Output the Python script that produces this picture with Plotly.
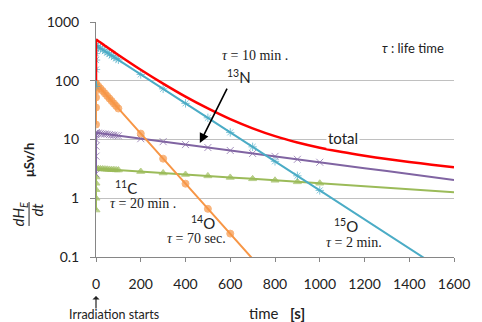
import math
import plotly.graph_objects as go

# ---- data: dose-rate (uSv/h) of activation products after irradiation ----
# build-up during irradiation, all plotted at t = 0
buildup_time = [0, 0, 0, 0, 0, 0]
o15_buildup = [80, 155, 225, 290, 350, 400]
o14_buildup = [18, 35, 52, 68, 82, 90]
n13_buildup = [2.6, 5.2, 7.7, 10.0, 12.0, 13.0]
c11_buildup = [0.63, 1.0, 1.4, 1.8, 2.3, 3.2]
total_buildup = [101, 196, 287, 371, 447, 506]

# decay after irradiation
decay_time = [0, 10, 20, 30, 40, 50, 60, 70, 80, 90, 100,
              200, 300, 400, 500, 600, 700, 800, 900, 1000,
              1100, 1200, 1300, 1400, 1500, 1600]
o15_decay = [400, 378, 357, 337, 319, 301, 284, 269, 254, 240, 227,
             128, 72.8, 41.2, 23.4, 13.2, 7.5, 4.25, 2.41, 1.36,
             0.77, 0.44, 0.25, 0.14, 0.08, 0.045]
n13_decay = [13.0, 12.85, 12.70, 12.56, 12.41, 12.27, 12.13, 11.99, 11.85, 11.72, 11.58,
             10.32, 9.19, 8.19, 7.30, 6.50, 5.79, 5.16, 4.60, 4.10,
             3.65, 3.25, 2.90, 2.58, 2.30, 2.05]
c11_decay = [3.2, 3.18, 3.16, 3.15, 3.13, 3.11, 3.09, 3.07, 3.06, 3.04, 3.02,
             2.85, 2.69, 2.54, 2.40, 2.26, 2.14, 2.02, 1.90, 1.80,
             1.70, 1.60, 1.51, 1.43, 1.35, 1.27]
total_decay = [506, 476, 447, 420, 395, 372, 349, 329, 310, 292, 275,
               154, 89.4, 53.7, 33.8, 22.2, 15.5, 11.4, 8.9, 7.26,
               6.12, 5.29, 4.66, 4.15, 3.73, 3.37]

o14_time = [0, 10, 20, 30, 40, 50, 60, 70, 80, 90, 100,
            200, 300, 400, 500, 600, 700]
o14_decay = [90, 81.6, 73.9, 67.0, 60.8, 55.1, 49.9, 45.2, 41.0, 37.2, 33.7,
             12.6, 4.72, 1.77, 0.66, 0.25, 0.093]

y_tick_vals = [0.1, 1, 10, 100, 1000]
y_tick_text = ["0.1", "1", "10", "100", "1000"]
x_tick_vals = [0, 200, 400, 600, 800, 1000, 1200, 1400, 1600]

RED = "#FF0000"
TEAL = "#4BACC6"
ORANGE = "#F79646"
PURPLE = "#8064A2"
GREEN = "#9BBB59"
AXIS = "#868686"
GRID = "#C0C0C0"
INK = "#222222"
SANS = "Lato"
SERIF = "Liberation Serif"

fig = go.Figure()


def add_isotope(bt, bv, dt, dv, color, symbol, size, last_marked, lw=2, mline=1.0):
    """Build-up points at t=0 followed by the decay curve; markers up to last_marked s."""
    xs = list(bt) + list(dt)
    ys = list(bv) + list(dv)
    sizes = [size] * len(bt) + [size if t <= last_marked else 0 for t in dt]
    fig.add_trace(go.Scatter(
        x=xs, y=ys, mode="lines+markers",
        line=dict(color=color, width=lw),
        marker=dict(symbol=symbol, size=sizes, color=color,
                    line=dict(color=color, width=mline)),
        showlegend=False, hoverinfo="skip"))


add_isotope(buildup_time, c11_buildup, decay_time, c11_decay, GREEN,
            "triangle-up", 7, 1000)
add_isotope(buildup_time, n13_buildup, decay_time, n13_decay, PURPLE,
            "x-thin-open", 7, 1000)
add_isotope(buildup_time, o14_buildup, o14_time, o14_decay, ORANGE,
            "circle", 7, 600)
add_isotope(buildup_time, o15_buildup, decay_time, o15_decay, TEAL,
            "asterisk-open", 7, 1000)

# total dose rate: vertical rise during irradiation, then smooth decay
fig.add_trace(go.Scatter(
    x=[buildup_time[0], buildup_time[-1]],
    y=[total_buildup[0], total_buildup[-1]],
    mode="lines", line=dict(color=RED, width=2.5),
    showlegend=False, hoverinfo="skip"))
fig.add_trace(go.Scatter(
    x=decay_time, y=total_decay,
    mode="lines", line=dict(color=RED, width=2.5, shape="spline", smoothing=0.8),
    showlegend=False, hoverinfo="skip"))

fig.update_layout(
    width=482, height=322,
    margin=dict(l=96, r=17, t=22, b=65),
    paper_bgcolor="white", plot_bgcolor="white",
    font=dict(family=SANS, size=14, color=INK),
)
fig.update_xaxes(
    range=[0, 1600], tickvals=x_tick_vals,
    showgrid=False, zeroline=False,
    showline=True, linecolor=AXIS, linewidth=1,
    ticks="outside", ticklen=4, tickcolor=AXIS,
    tickfont=dict(family=SANS, size=14, color=INK),
    ticklabelstandoff=10,
)
fig.update_yaxes(
    type="log", range=[-1, 3],
    tickvals=y_tick_vals, ticktext=y_tick_text,
    showgrid=True, gridcolor=GRID, gridwidth=1,
    zeroline=False, showline=True, linecolor=AXIS, linewidth=1,
    ticks="outside", ticklen=5, tickcolor=AXIS,
    tickfont=dict(family=SANS, size=14, color=INK),
    ticklabelstandoff=8,
)


def note(text, x, y, size=14, family=SERIF, **kw):
    fig.add_annotation(text=text, x=x, y=math.log10(y), xref="x", yref="y",
                       xanchor="center", yanchor="middle",
                       showarrow=False, font=dict(family=family, size=size,
                                                  color=INK), **kw)


def paper_note(text, x, y, size=14, family=SANS, angle=0):
    fig.add_annotation(text=text, x=x, y=y, xref="paper", yref="paper",
                       xanchor="center", yanchor="middle", showarrow=False,
                       textangle=angle,
                       font=dict(family=family, size=size, color=INK))


note("<i>τ</i> = 10 min .", 711, 274)
note("<sup>13</sup>N", 637, 116, family=SANS, size=15)
note("<i>τ</i> : life time", 1417, 361, family=SANS, size=13)
note("total", 1105, 10.6, family=SANS, size=15, bgcolor="white")
note("<sup>11</sup>C", 135, 1.55, family=SANS, size=15)
note("<i>τ</i> = 20 min .", 212, 0.80)
note("<sup>14</sup>O", 477, 0.38, family=SANS, size=15)
note("<i>τ</i> = 70 sec.", 447, 0.21)
note("<sup>15</sup>O", 1118, 0.35, family=SANS, size=15)
note("<i>τ</i> = 2 min.", 1152, 0.18)

# arrow pointing at the 13N curve
fig.add_annotation(x=464, y=math.log10(8.7), ax=589, ay=math.log10(78),
                   xref="x", yref="y", axref="x", ayref="y", text="",
                   showarrow=True, arrowhead=2, arrowsize=1.2, arrowwidth=1.6,
                   arrowcolor="black")

# x-axis title and irradiation marker
paper_note("time&nbsp;&nbsp;&nbsp;<b>[s]</b>", 0.505, -0.238, size=15)
fig.add_annotation(x=0, y=-0.166, xref="x", yref="paper", ax=0, ay=14,
                   text="", showarrow=True, arrowhead=1, arrowsize=1,
                   arrowwidth=1.2, arrowcolor=INK)
paper_note("Irradiation starts", 0.051, -0.243, size=12.5)

# y-axis title: dH_E/dt as a rotated fraction, then the unit
paper_note("<i>dH<sub>E</sub></i>", -0.214, 0.183, size=15, angle=-90)
paper_note("<i>dt</i>", -0.166, 0.2, size=15, angle=-90)
fig.add_shape(type="line", xref="paper", yref="paper",
              x0=-0.187, x1=-0.187, y0=0.132, y1=0.234,
              line=dict(color=INK, width=1))
paper_note("<b>μSv/h</b>", -0.187, 0.413, size=13, angle=-90)

fig.write_html("out.html")
